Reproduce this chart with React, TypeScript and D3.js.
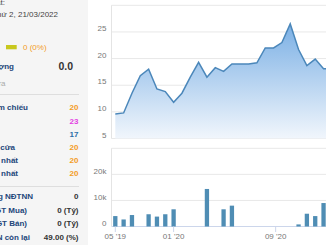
import React from "react";
import * as d3 from "d3";

// ---- data ----
const priceValues = [9.6, 9.8, 13.5, 16.8, 18.0, 14.3, 13.8, 11.8, 13.5, 16.5, 19.3, 16.5, 18.3, 17.6, 19.0, 19.0, 19.0, 19.2, 22.0, 22.0, 23.0, 26.5, 21.7, 18.7, 19.9, 18.1, 18.1];
const volumeValues = [4000, 2700, 4400, 0, 4700, 3800, 4700, 6600, 0, 0, 0, 14400, 0, 6600, 8000, 0, 0, 0, 0, 0, 0, 0, 800, 4900, 4000, 9000, 0];
const priceTicks = [5, 10, 15, 20, 25, 30];
const volumeTicks = [0, 10000, 20000, 30000];
const xTickLabels = ["05 '19", "01 '20", "09 '20"];
const xTickIndex = [0, 7, 19.25];

const infoLabels = ["Giá tham chiếu", "Giá trần", "Giá sàn", "Giá mở cửa", "Giá cao nhất", "Giá thấp nhất"];
const infoValues = ["20", "23", "17", "20", "20", "20"];
const infoColors = ["#f39c1f", "#e33fe3", "#2b6ea8", "#f39c1f", "#f39c1f", "#f39c1f"];
const foreignLabels = ["Khối lượng NĐTNN", "Giá trị mua (GT Mua)", "Giá trị bán (GT Bán)", "Room NN còn lại"];
const foreignValues = ["0", "0 (Tỷ)", "0 (Tỷ)", "49.00 (%)"];

const FONT = "'Liberation Sans', Arial, sans-serif";

export default function App() {
  const W = 326, H = 245;
  const plotLeft = 111.5, plotRight = 326;
  const x = d3.scaleLinear().domain([0, 26]).range([115.3, 115.3 + 26 * 8.33]);
  const yP = d3.scaleLinear().domain([5, 30]).range([138.5, 5.3]);
  const yV = d3.scaleLinear().domain([0, 30000]).range([226.5, 148.3]);

  const line = d3.line<number>().x((_, i) => x(i)).y((d) => yP(d));
  const area = d3.area<number>().x((_, i) => x(i)).y0(yP(5)).y1((d) => yP(d));

  const labelEnds = [28, -2, -2, 15, 18, 18];
  const rowY = (i: number) => 110.4 + i * 13.2;
  const fRowY = [199, 212.8, 225.8, 239.6];
  const fLabelEnds = [33, 27, 27, 30];

  return (
    <svg width={W} height={H} style={{ position: "absolute", left: 0, top: 0, fontFamily: FONT }}>
      <defs>
        <linearGradient id="areaGrad" gradientUnits="userSpaceOnUse" x1="0" y1={yP(27)} x2="0" y2={yP(5)}>
          <stop offset="0" stopColor="#78aee4" />
          <stop offset="1" stopColor="#f1f6fc" />
        </linearGradient>
      </defs>
      <rect x={0} y={0} width={W} height={H} fill="#ffffff" />
      {/* left info panel */}
      <rect x={0} y={0} width={88} height={H} fill="#f5f5f5" />
      <text x={5} y={5} textAnchor="end" fontSize={8} fill="#444">Cập nhật:</text>
      <text x={58} y={16.5} textAnchor="end" fontSize={8} fill="#444">Thứ 2, 21/03/2022</text>
      <rect x={6} y={45} width={10.7} height={4.3} fill="#c8c81e" />
      <text x={23} y={50} fontSize={8} fill="#f39c1f">0 (0%)</text>
      <text x={14} y={69} textAnchor="end" fontSize={8} fontWeight="bold" fill="#23467a">Khối lượng</text>
      <text x={73} y={69.5} textAnchor="end" fontSize={10.5} fontWeight="bold" fill="#333">0.0</text>
      <text x={5.5} y={86} textAnchor="end" fontSize={8} fill="#aaa">ra</text>
      <line x1={0} x2={79} y1={94.5} y2={94.5} stroke="#dedede" />
      {infoLabels.map((l, i) => (
        <g key={l}>
          <text x={labelEnds[i]} y={rowY(i)} textAnchor="end" fontSize={8} fontWeight="bold" fill="#23467a">{l}</text>
          <text x={78.5} y={rowY(i)} textAnchor="end" fontSize={8} fontWeight="bold" fill={infoColors[i]}>{infoValues[i]}</text>
        </g>
      ))}
      <line x1={0} x2={79} y1={186.5} y2={186.5} stroke="#dedede" />
      {foreignLabels.map((l, i) => (
        <g key={l}>
          <text x={fLabelEnds[i]} y={fRowY[i]} textAnchor="end" fontSize={8} fontWeight="bold" fill="#23467a">{l}</text>
          <text x={78.5} y={fRowY[i]} textAnchor="end" fontSize={8} fontWeight="bold" fill="#333">{foreignValues[i]}</text>
        </g>
      ))}

      {/* price pane */}
      {priceTicks.map((t) => (
        <line key={"pg" + t} x1={plotLeft} x2={plotRight} y1={yP(t)} y2={yP(t)} stroke="#e8e8e8" />
      ))}
      <line x1={plotLeft} x2={plotLeft} y1={yP(30)} y2={yP(5)} stroke="#e4e4e4" />
      <path d={area(priceValues) || ""} fill="url(#areaGrad)" />
      <path d={line(priceValues) || ""} fill="none" stroke="#4b87ba" strokeWidth={1.5} />
      {priceTicks.filter((t) => t < 30).map((t) => (
        <text key={"pl" + t} x={106.5} y={yP(t) - 0.8} textAnchor="end" fontSize={8} fill="#777">{t}</text>
      ))}

      {/* volume pane */}
      {volumeTicks.map((t) => (
        <line key={"vg" + t} x1={plotLeft} x2={plotRight} y1={yV(t)} y2={yV(t)} stroke={t === 0 ? "#ccd6eb" : "#e8e8e8"} />
      ))}
      <line x1={plotLeft} x2={plotLeft} y1={yV(30000)} y2={yV(0)} stroke="#e4e4e4" />
      {volumeValues.map((v, i) =>
        v > 0 ? (
          <rect key={"b" + i} x={x(i) - 2.15} y={yV(v)} width={4.3} height={yV(0) - yV(v)} fill="#4f8db4" />
        ) : null
      )}
      {volumeTicks.filter((t) => t < 30000).map((t) => (
        <text key={"vl" + t} x={106.5} y={yV(t) - 0.3} textAnchor="end" fontSize={8} fill="#777">{t === 0 ? "0" : t / 1000 + "k"}</text>
      ))}

      {/* x axis */}
      {xTickIndex.map((p, i) => (
        <g key={"xt" + i}>
          <line x1={x(p)} x2={x(p)} y1={yV(0)} y2={yV(0) + 5.5} stroke="#ccd6eb" />
          <text x={x(p)} y={239} textAnchor="middle" fontSize={8} fill="#777">{xTickLabels[i]}</text>
        </g>
      ))}
    </svg>
  );
}
